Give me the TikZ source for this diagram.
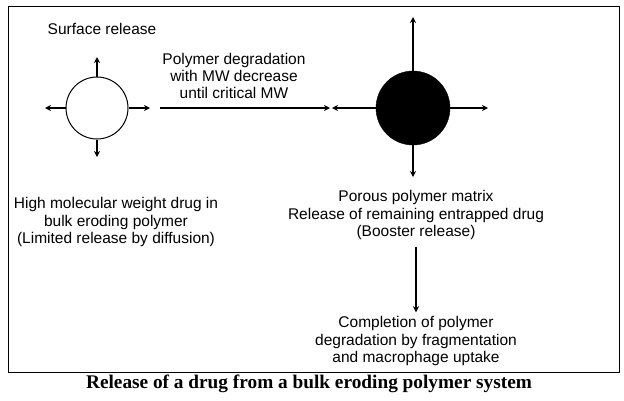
\documentclass[tikz,border=0pt]{standalone}
\usepackage{fontspec}
\setmainfont{Liberation Sans}
\newfontfamily\capfont{Liberation Serif}
\usepackage{tikz}
\usetikzlibrary{positioning,arrows.meta}

\begin{document}
\begin{tikzpicture}[x=1pt, y=-1pt,
  txt/.style   ={font=\fontsize{15.5}{17.3}\selectfont, align=center, inner sep=1pt},
  arr/.style   ={line width=1.3pt, -{Stealth[length=6pt, width=6pt]}},
  solidlc/.style ={circle, draw, line width=1pt, fill=white, minimum size=62pt, inner sep=0pt},
  porouspt/.style={circle, draw, fill=black, minimum size=74pt, inner sep=0pt},
]
\useasboundingbox (0,0) rectangle (624,400);
% frame
\draw[line width=1pt] (8,6) rectangle (619,372);
% left particle: bulk eroding polymer
\node[solidlc] (lc) at (97,108) {};
\coordinate (lcN) at (97,57);
\coordinate (lcS) at (97,157);
\coordinate (lcW) at (45,108);
\coordinate (lcE) at (150,108);
\foreach \d in {N,S,W,E} { \draw[arr] (lc) -- (lc\d); }
% right particle: porous matrix
\node[porouspt] (rc) at (413,108) {};
\coordinate (rcN) at (413,17);
\coordinate (rcS) at (413,177);
\coordinate (rcW) at (332,108);
\coordinate (rcE) at (488,108);
\foreach \d in {N,S,W,E} { \draw[arr] (rc) -- (rc\d); }
% degradation step
\coordinate (degA) at (160,108);
\coordinate (degB) at (330,108);
\draw[arr] (degA) -- (degB);
% labels
\node[txt] (surf) at (102,29) {Surface release};
\node[txt] (deg)  at (234,76) {Polymer degradation\\with MW decrease\\until critical MW};
\node[txt] (hmw)  at (116,222) {High molecular weight drug in\\bulk eroding polymer\\(Limited release by diffusion)};
\node[txt] (porous) at (416,215) {Porous polymer matrix\\Release of remaining entrapped drug\\(Booster release)};
\node[txt] (complete) at (416,341) {Completion of polymer\\degradation by fragmentation\\and macrophage uptake};
\draw[arr, shorten <=6pt, shorten >=3pt] (porous) -- (complete);
% caption
\node[font=\capfont\bfseries\fontsize{19.3}{21}\selectfont] (cap) at (309,384) {Release of a drug from a bulk eroding polymer system};
\end{tikzpicture}
\end{document}
